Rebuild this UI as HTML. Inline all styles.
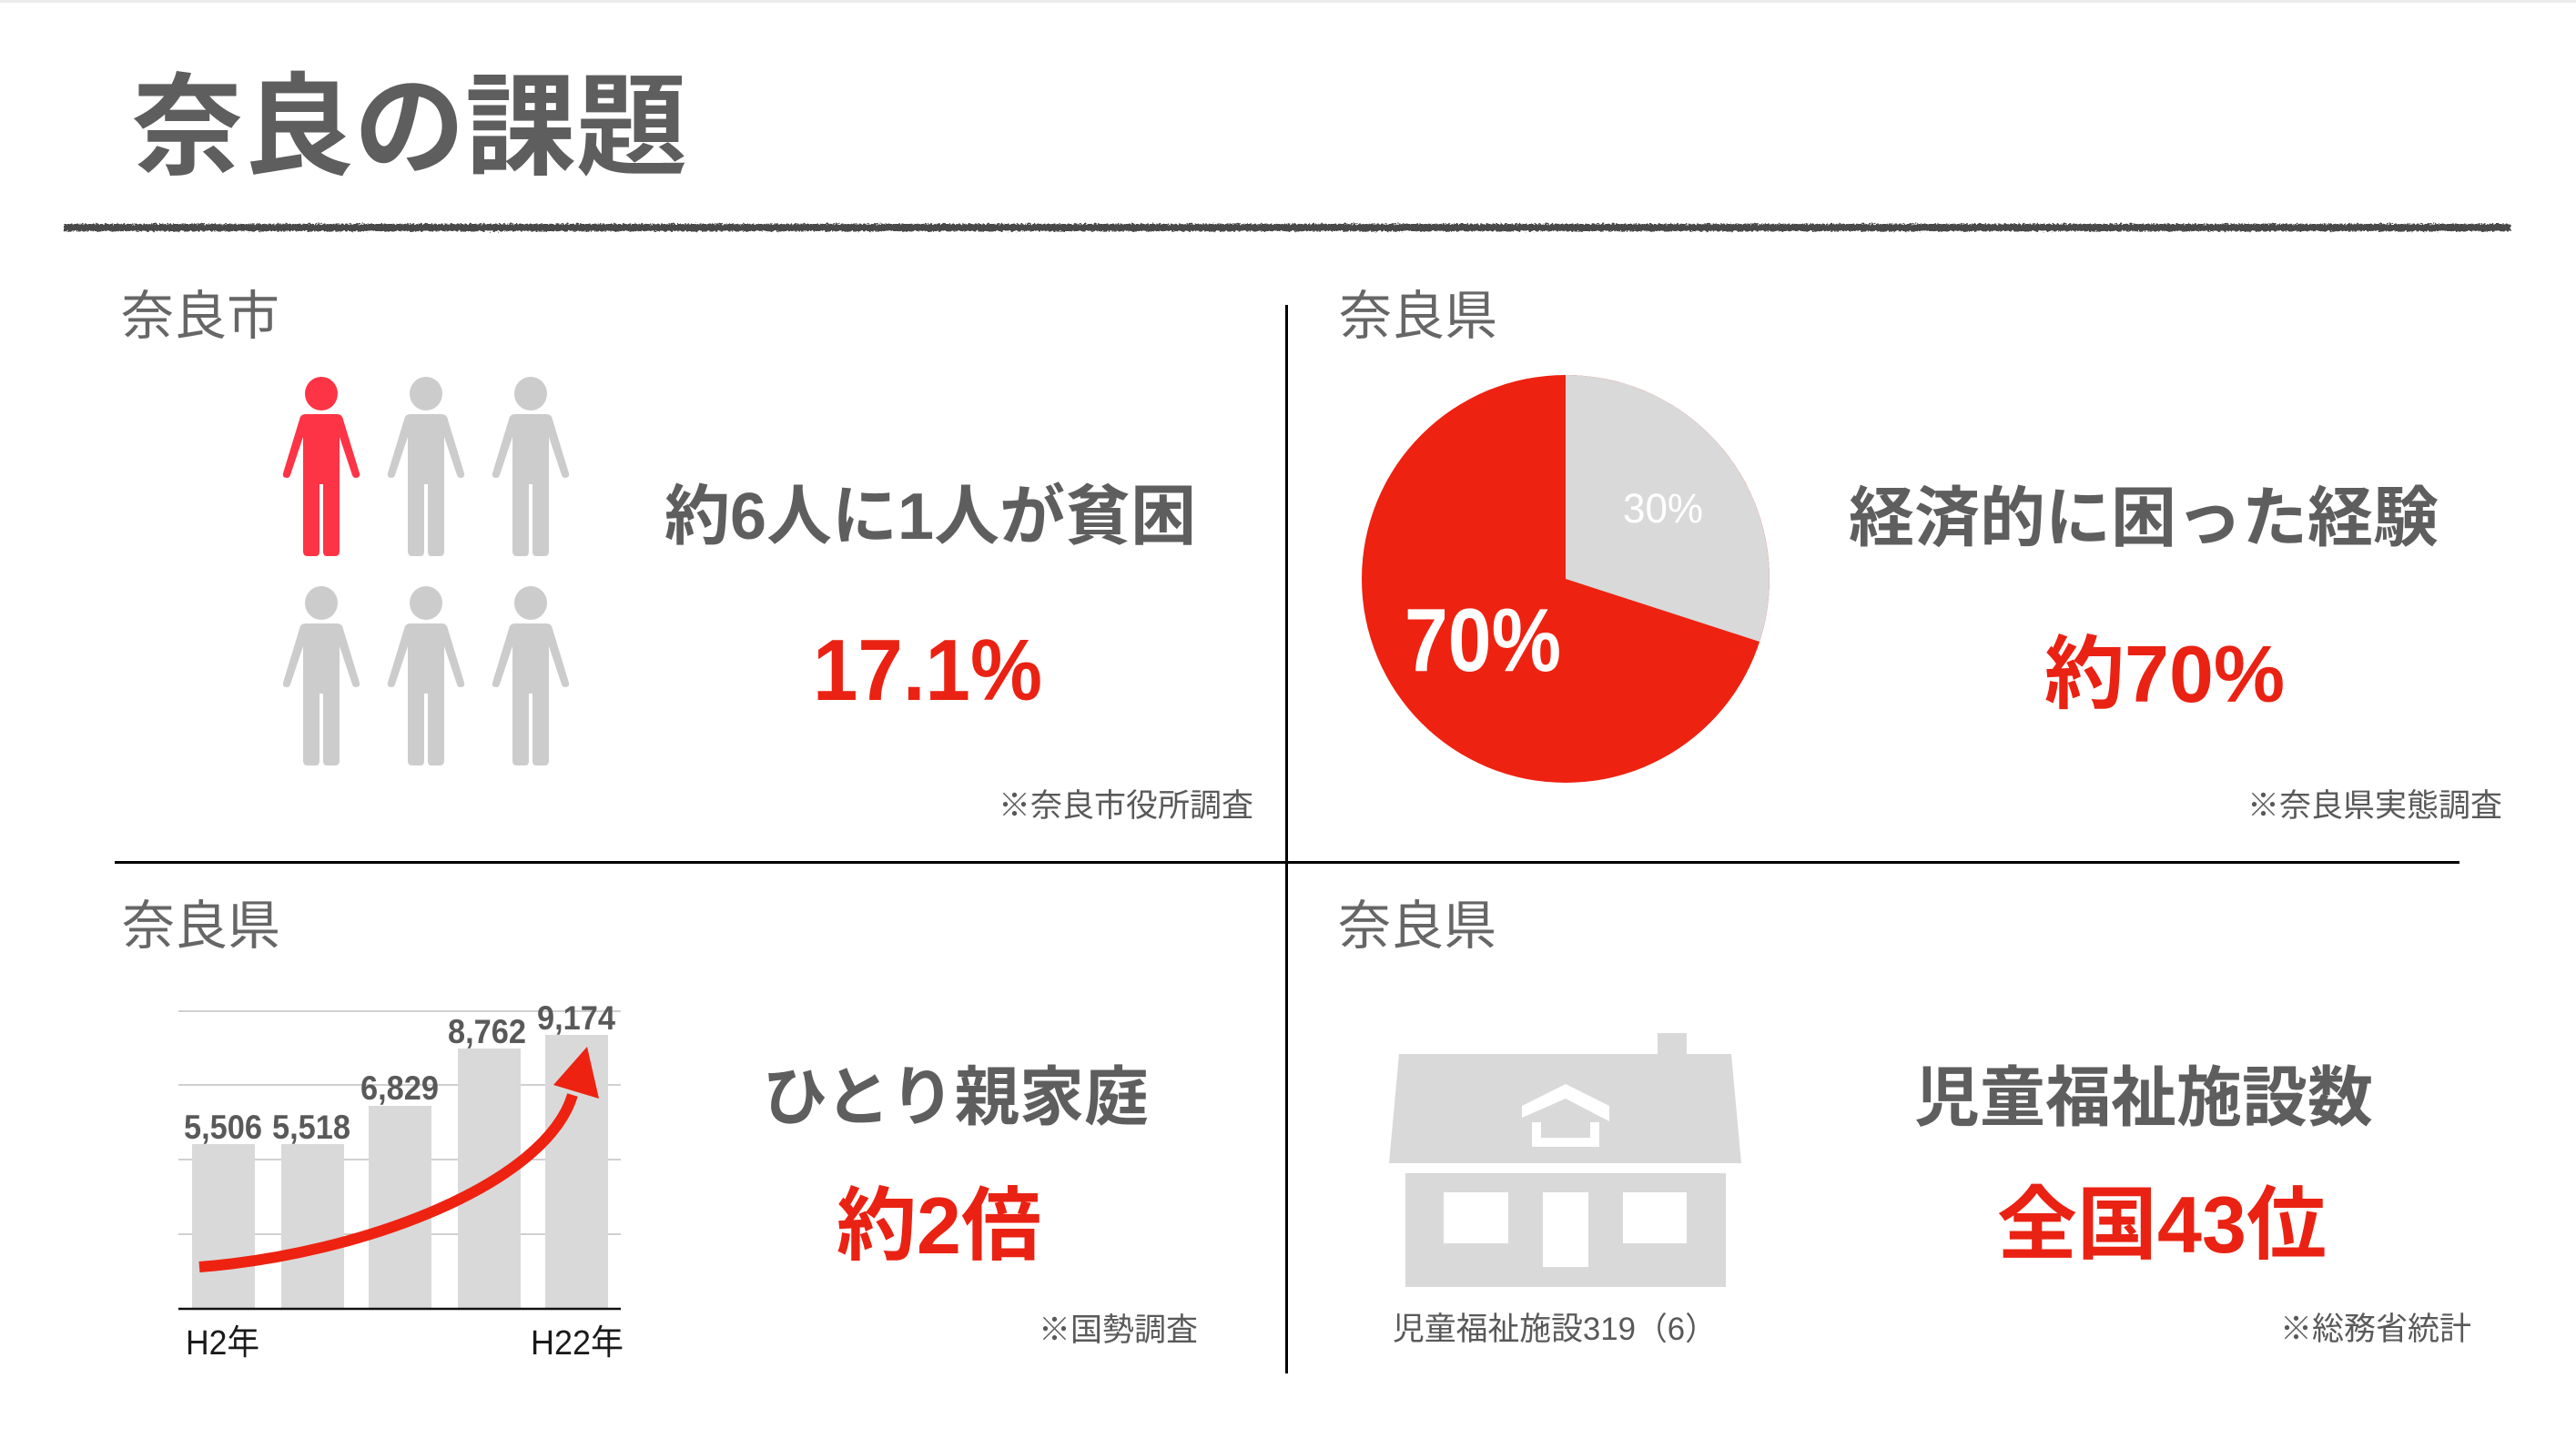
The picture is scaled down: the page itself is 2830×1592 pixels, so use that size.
<!DOCTYPE html>
<html><head><meta charset="utf-8"><style>
html,body{margin:0;padding:0;background:#fff;}
body{width:2830px;height:1592px;overflow:hidden;}
svg{display:block;}
text{font-family:"Liberation Sans","Noto Sans CJK JP",sans-serif;}
</style></head><body>
<svg width="2830" height="1592" viewBox="0 0 2830 1592" xmlns="http://www.w3.org/2000/svg">
<defs>
<filter id="rough" x="-1%" y="-200%" width="102%" height="500%">
<feTurbulence type="fractalNoise" baseFrequency="0.45" numOctaves="2" seed="4" result="n"/>
<feDisplacementMap in="SourceGraphic" in2="n" scale="5" xChannelSelector="R" yChannelSelector="G"/>
</filter>
</defs>
<rect x="0" y="0" width="2830" height="3" fill="#ececec"/>

<!-- Title -->
<text x="145" y="182" font-size="122" font-weight="bold" fill="#5e5e5e">奈良の課題</text>
<rect x="70" y="246" width="2688" height="8" fill="#4a4a4a" filter="url(#rough)"/>

<!-- Dividers -->
<rect x="1412" y="335" width="3" height="1174" fill="#000"/>
<rect x="126" y="946" width="2576" height="3" fill="#000"/>

<!-- Section labels -->
<text x="133" y="367" font-size="58" fill="#666">奈良市</text>
<text x="1471" y="367" font-size="58" fill="#666">奈良県</text>
<text x="134" y="1037" font-size="58" fill="#666">奈良県</text>
<text x="1470" y="1037" font-size="58" fill="#666">奈良県</text>

<!-- People -->
<g fill="#fd3446" transform="translate(353,414)">
<ellipse cx="0" cy="18.5" rx="18" ry="18.5"/>
<path d="M-17,41 L17,41 Q23,41 24,47 L42,106 Q43,111 38,111 Q35,111 34,108 L20,66 L20,192 Q20,197 15,197 L6,197 Q2,197 2,192 L2,118 L-2,118 L-2,192 Q-2,197 -6,197 L-15,197 Q-20,197 -20,192 L-20,66 L-34,108 Q-35,111 -38,111 Q-43,111 -42,106 L-24,47 Q-23,41 -17,41 Z"/>
</g>
<g fill="#cccccc" transform="translate(468,414)">
<ellipse cx="0" cy="18.5" rx="18" ry="18.5"/>
<path d="M-17,41 L17,41 Q23,41 24,47 L42,106 Q43,111 38,111 Q35,111 34,108 L20,66 L20,192 Q20,197 15,197 L6,197 Q2,197 2,192 L2,118 L-2,118 L-2,192 Q-2,197 -6,197 L-15,197 Q-20,197 -20,192 L-20,66 L-34,108 Q-35,111 -38,111 Q-43,111 -42,106 L-24,47 Q-23,41 -17,41 Z"/>
</g>
<g fill="#cccccc" transform="translate(583,414)">
<ellipse cx="0" cy="18.5" rx="18" ry="18.5"/>
<path d="M-17,41 L17,41 Q23,41 24,47 L42,106 Q43,111 38,111 Q35,111 34,108 L20,66 L20,192 Q20,197 15,197 L6,197 Q2,197 2,192 L2,118 L-2,118 L-2,192 Q-2,197 -6,197 L-15,197 Q-20,197 -20,192 L-20,66 L-34,108 Q-35,111 -38,111 Q-43,111 -42,106 L-24,47 Q-23,41 -17,41 Z"/>
</g>
<g fill="#cccccc" transform="translate(353,644)">
<ellipse cx="0" cy="18.5" rx="18" ry="18.5"/>
<path d="M-17,41 L17,41 Q23,41 24,47 L42,106 Q43,111 38,111 Q35,111 34,108 L20,66 L20,192 Q20,197 15,197 L6,197 Q2,197 2,192 L2,118 L-2,118 L-2,192 Q-2,197 -6,197 L-15,197 Q-20,197 -20,192 L-20,66 L-34,108 Q-35,111 -38,111 Q-43,111 -42,106 L-24,47 Q-23,41 -17,41 Z"/>
</g>
<g fill="#cccccc" transform="translate(468,644)">
<ellipse cx="0" cy="18.5" rx="18" ry="18.5"/>
<path d="M-17,41 L17,41 Q23,41 24,47 L42,106 Q43,111 38,111 Q35,111 34,108 L20,66 L20,192 Q20,197 15,197 L6,197 Q2,197 2,192 L2,118 L-2,118 L-2,192 Q-2,197 -6,197 L-15,197 Q-20,197 -20,192 L-20,66 L-34,108 Q-35,111 -38,111 Q-43,111 -42,106 L-24,47 Q-23,41 -17,41 Z"/>
</g>
<g fill="#cccccc" transform="translate(583,644)">
<ellipse cx="0" cy="18.5" rx="18" ry="18.5"/>
<path d="M-17,41 L17,41 Q23,41 24,47 L42,106 Q43,111 38,111 Q35,111 34,108 L20,66 L20,192 Q20,197 15,197 L6,197 Q2,197 2,192 L2,118 L-2,118 L-2,192 Q-2,197 -6,197 L-15,197 Q-20,197 -20,192 L-20,66 L-34,108 Q-35,111 -38,111 Q-43,111 -42,106 L-24,47 Q-23,41 -17,41 Z"/>
</g>

<text x="730" y="592" font-size="72" font-weight="bold" fill="#5e5e5e">約6人に1人が貧困</text>
<text x="893" y="769" font-size="96" font-weight="bold" fill="#ea2213" textLength="252" lengthAdjust="spacingAndGlyphs">17.1%</text>
<text x="1097" y="897" font-size="35" fill="#595959">※奈良市役所調査</text>

<!-- Pie -->
<circle cx="1720" cy="636" r="224" fill="#ee2211"/>
<path d="M1720,636 L1720,412 A224,224 0 0 1 1933,705 Z" fill="#d9d9d9"/>
<text x="1783" y="574" font-size="45" fill="#fff" textLength="88" lengthAdjust="spacingAndGlyphs">30%</text>
<text x="1543" y="737" font-size="98" font-weight="bold" fill="#fff" textLength="172" lengthAdjust="spacingAndGlyphs">70%</text>

<text x="2031" y="594" font-size="72" font-weight="bold" fill="#5e5e5e">経済的に困った経験</text>
<text x="2246" y="771" font-size="88" font-weight="bold" fill="#ea2213">約70%</text>
<text x="2469" y="897" font-size="35" fill="#595959">※奈良県実態調査</text>

<!-- Bar chart -->
<g stroke="#d0d0d0" stroke-width="2">
<line x1="196" y1="1111" x2="682" y2="1111"/>
<line x1="196" y1="1192" x2="682" y2="1192"/>
<line x1="196" y1="1274" x2="682" y2="1274"/>
<line x1="196" y1="1356" x2="682" y2="1356"/>
</g>
<g fill="#d9d9d9">
<rect x="211" y="1257" width="69" height="181"/>
<rect x="309" y="1257" width="69" height="181"/>
<rect x="405" y="1215" width="69" height="223"/>
<rect x="503" y="1152" width="69" height="286"/>
<rect x="599" y="1137" width="69" height="301"/>
</g>
<line x1="196" y1="1438" x2="682" y2="1438" stroke="#111" stroke-width="2.5"/>
<g font-size="37" font-weight="bold" fill="#595959">
<text x="202" y="1251" textLength="86" lengthAdjust="spacingAndGlyphs">5,506</text>
<text x="299" y="1251" textLength="86" lengthAdjust="spacingAndGlyphs">5,518</text>
<text x="396" y="1208" textLength="86" lengthAdjust="spacingAndGlyphs">6,829</text>
<text x="492" y="1146" textLength="86" lengthAdjust="spacingAndGlyphs">8,762</text>
<text x="590" y="1131" textLength="86" lengthAdjust="spacingAndGlyphs">9,174</text>
</g>
<path d="M219,1392 C400,1378 600,1300 629,1203" fill="none" stroke="#ee2211" stroke-width="12"/>
<polygon points="645,1150 608,1192 658,1207" fill="#ee2211"/>
<text x="204" y="1488" font-size="38" fill="#1a1a1a" textLength="81" lengthAdjust="spacingAndGlyphs">H2年</text>
<text x="583" y="1488" font-size="38" fill="#1a1a1a" textLength="102" lengthAdjust="spacingAndGlyphs">H22年</text>

<text x="838" y="1230" font-size="71" font-weight="bold" fill="#5e5e5e">ひとり親家庭</text>
<text x="919" y="1377" font-size="88" font-weight="bold" fill="#ea2213">約2倍</text>
<text x="1141" y="1473" font-size="35" fill="#595959">※国勢調査</text>

<!-- House -->
<g fill="#d9d9d9">
<rect x="1821" y="1135" width="32" height="26"/>
<polygon points="1537,1158 1902,1158 1913,1278 1526,1278"/>
<rect x="1544" y="1289" width="352" height="125"/>
</g>
<g fill="#fff">
<rect x="1586" y="1310" width="71" height="56"/>
<rect x="1783" y="1310" width="70" height="56"/>
<rect x="1695" y="1310" width="50" height="82"/>
<polygon points="1672,1215 1720,1191 1768,1215 1768,1232 1720,1207 1672,1228"/>
<path d="M1683,1233 L1693,1233 L1693,1250 L1747,1250 L1747,1233 L1757,1233 L1757,1260 L1683,1260 Z"/>
</g>

<text x="2103" y="1231" font-size="72" font-weight="bold" fill="#5e5e5e">児童福祉施設数</text>
<text x="2194" y="1376" font-size="88" font-weight="bold" fill="#ea2213">全国43位</text>
<text x="1530" y="1472" font-size="35" fill="#595959" textLength="356" lengthAdjust="spacingAndGlyphs">児童福祉施設319（6）</text>
<text x="2505" y="1472" font-size="35" fill="#595959">※総務省統計</text>
</svg>
</body></html>
